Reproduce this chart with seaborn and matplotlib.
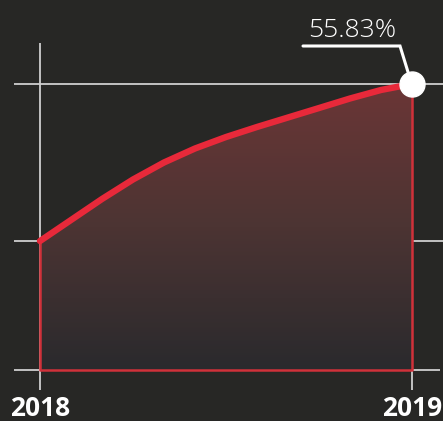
import numpy as np
import pandas as pd
import seaborn as sns
import matplotlib.pyplot as plt
from matplotlib.colors import LinearSegmentedColormap

# Data (monthly share, %)
months = [0, 1, 2, 3, 4, 5, 6, 7, 8, 9, 10, 11, 12]
share = [25.18, 29.28, 33.38, 37.19, 40.51, 43.24, 45.48, 47.44, 49.29, 51.14, 53.00, 54.66, 55.83]
tick_years = [2018, 2019]
end_label = "55.83%"

BG = "#272725"
RED = "#e8293a"
EDGE = "#d0313a"
GRID = "#cfcfcf"

df = pd.DataFrame({"Year": [2018 + m / 12 for m in months], "Share": share})


def main():
    sns.set_style("dark", {"axes.facecolor": BG, "figure.facecolor": BG})
    plt.rcParams['font.family'] = ['Open Sans', 'DejaVu Sans']

    fig = plt.figure(figsize=(4.43, 4.21), dpi=100)
    ax = fig.add_axes([0, 0, 1, 1])

    # one year = 372 px, one percent ~ 5.12 px
    px_x = 1 / 372
    px_y = share[-1] / 286
    x0, x1 = tick_years

    # reference lines
    xl = x0 - 26 * px_x
    xr = x1 + 31 * px_x
    ax.hlines([share[0], share[-1]], xl, xr, color=GRID, lw=1.3, zorder=1)
    ax.hlines(0, xl, x1 + 28 * px_x, color=GRID, lw=1.3, zorder=1)
    ax.vlines(x0, -20 * px_y, share[-1] + 41 * px_y, color=GRID, lw=1.3, zorder=1)
    ax.vlines(x1, -20 * px_y, 0, color=GRID, lw=1.3, zorder=1)

    # gradient area
    poly = ax.fill_between(df["Year"], df["Share"], 0, color="none", zorder=2)
    cmap = LinearSegmentedColormap.from_list("g", ["#2a2a2d", "#4c3433", "#6b3636"])
    grad = np.linspace(0, 1, 256).reshape(-1, 1)
    im = ax.imshow(grad, cmap=cmap, origin="lower", aspect="auto",
                   extent=[x0, x1, 0, share[-1]], zorder=2)
    im.set_clip_path(poly.get_paths()[0], transform=ax.transData)
    ax.plot([x0, x0, x1, x1], [share[0], 0, 0, share[-1]], color=EDGE, lw=1.8, zorder=3)

    # main line
    sns.lineplot(data=df, x="Year", y="Share", color=RED, lw=4.6, ax=ax,
                 solid_capstyle="round", solid_joinstyle="round", zorder=4)
    ax.axis("off")
    ax.set_xlim(x0 - 40 * px_x, x1 + 31 * px_x)
    ax.set_ylim(-51 * px_y, share[-1] + 84 * px_y)

    # end marker and label
    ax.plot([x1], [share[-1]], "o", ms=18, color="white", zorder=6)
    ax.plot([x1 - 109 * px_x, x1 - 12 * px_x, x1 - 4 * px_x],
            [share[-1] + 38 * px_y, share[-1] + 38 * px_y, share[-1] + 12 * px_y],
            color="white", lw=2.2, zorder=5, solid_joinstyle="miter")
    ax.text(x1 - 60 * px_x, share[-1] + 47 * px_y, end_label, color="white",
            fontsize=19, fontweight="light", ha="center", va="baseline", zorder=6)

    # year labels
    for yr in tick_years:
        ax.text(yr, -46 * px_y, str(yr), color="white", fontsize=19,
                fontweight="bold", ha="center", va="baseline")

    fig.savefig("out.png", dpi=100, facecolor=BG)
    plt.close(fig)


if __name__ == "__main__":
    main()
